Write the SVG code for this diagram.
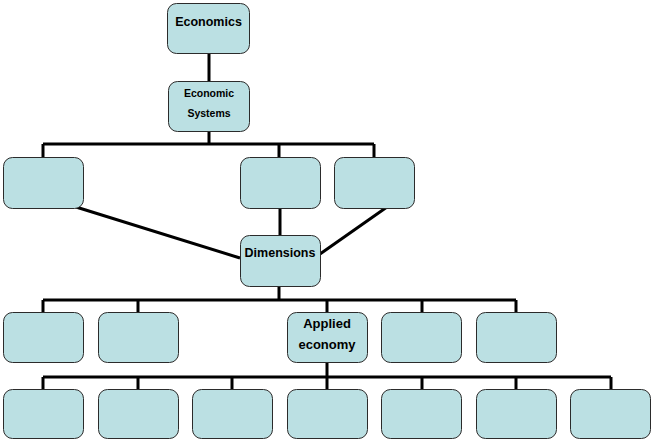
<svg xmlns="http://www.w3.org/2000/svg" width="654" height="442" viewBox="0 0 654 442">
<style>
.box{fill:#BBE0E3;stroke:#2b2b2b;stroke-width:1}
.ln{fill:none;stroke:#000;stroke-width:3;stroke-linecap:butt}
.t{font-family:"Liberation Sans",Arial,sans-serif;font-weight:bold;fill:#000;text-anchor:middle;dominant-baseline:central}
</style>
<rect width="654" height="442" fill="#fff"/>
<g id="connectors">
<path class="ln" d="M209 53V81M209 132V144M43 144H374M43 144V157M279 144V157M374 144V157"/>
<path class="ln" d="M76 207L240 258M387 207L320 254M280 209V235"/>
<path class="ln" d="M279 286V300M43 300H516M43 300V312M138 300V312M327 300V312M422 300V312M516 300V312"/>
<path class="ln" d="M327 362V377M43 377H611M43 377V389M138 377V389M232 377V389M327 377V389M422 377V389M516 377V389M611 377V389"/>
</g>
<g id="economics"><rect class="box" x="167.5" y="3.5" width="82" height="50" rx="9"/><text class="t" x="208.5" y="22" font-size="12.5">Economics</text></g>
<g id="economic-systems"><rect class="box" x="168.5" y="81.5" width="81" height="50" rx="9"/><text class="t" x="209" y="93" font-size="10.5">Economic</text><text class="t" x="209" y="113" font-size="10.5">Systems</text></g>
<g id="r2a"><rect class="box" x="3.5" y="157.5" width="80" height="51" rx="9"/></g>
<g id="r2b"><rect class="box" x="240.5" y="157.5" width="80" height="51" rx="9"/></g>
<g id="r2c"><rect class="box" x="334.5" y="157.5" width="80" height="51" rx="9"/></g>
<g id="dimensions"><rect class="box" x="240.5" y="235.5" width="80" height="51" rx="9"/><text class="t" x="280" y="253" font-size="12.5">Dimensions</text></g>
<g id="r3a"><rect class="box" x="3.5" y="312.5" width="80" height="50" rx="9"/></g>
<g id="r3b"><rect class="box" x="98.5" y="312.5" width="80" height="50" rx="9"/></g>
<g id="applied-economy"><rect class="box" x="287.5" y="312.5" width="80" height="50" rx="9"/><text class="t" x="327" y="323" font-size="13">Applied</text><text class="t" x="327" y="344" font-size="13">economy</text></g>
<g id="r3d"><rect class="box" x="381.5" y="312.5" width="80" height="50" rx="9"/></g>
<g id="r3e"><rect class="box" x="476.5" y="312.5" width="80" height="50" rx="9"/></g>
<g id="r4a"><rect class="box" x="3.5" y="389.5" width="80" height="49" rx="9"/></g>
<g id="r4b"><rect class="box" x="98.5" y="389.5" width="80" height="49" rx="9"/></g>
<g id="r4c"><rect class="box" x="192.5" y="389.5" width="80" height="49" rx="9"/></g>
<g id="r4d"><rect class="box" x="287.5" y="389.5" width="80" height="49" rx="9"/></g>
<g id="r4e"><rect class="box" x="381.5" y="389.5" width="80" height="49" rx="9"/></g>
<g id="r4f"><rect class="box" x="476.5" y="389.5" width="80" height="49" rx="9"/></g>
<g id="r4g"><rect class="box" x="570.5" y="389.5" width="80" height="49" rx="9"/></g>
</svg>
